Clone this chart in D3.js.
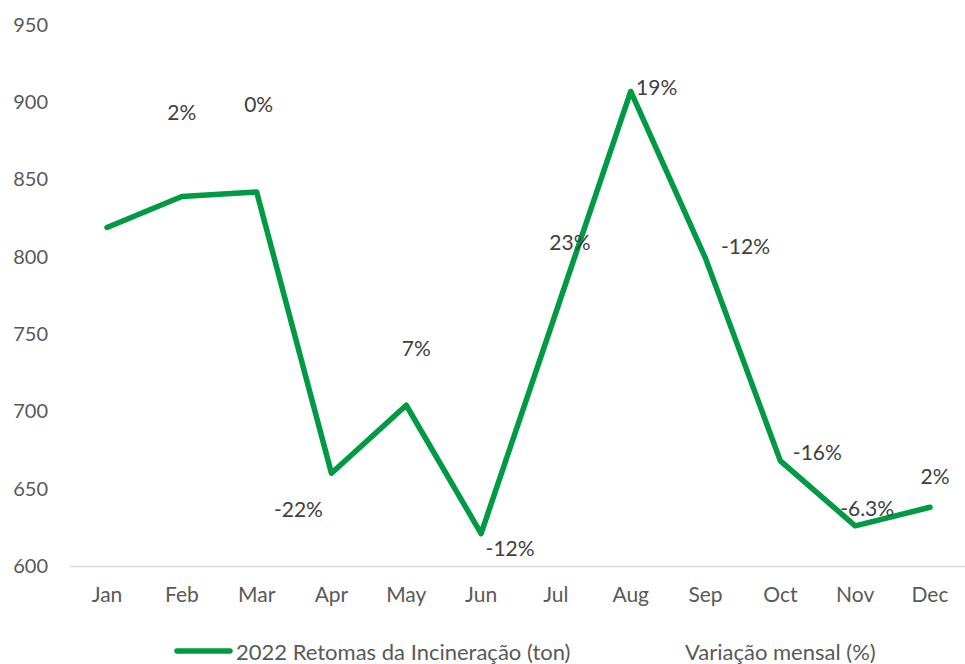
<!DOCTYPE html>
<html>
<head>
<meta charset="utf-8">
<script src="https://cdn.jsdelivr.net/npm/d3@7"></script>
<style>
  body { margin: 0; background: #fff; }
  svg { display: block; font-family: Lato, "Open Sans", sans-serif; }
</style>
</head>
<body>
<div id="chart"></div>
<script>
// chart data
const months = ['Jan', 'Feb', 'Mar', 'Apr', 'May', 'Jun', 'Jul', 'Aug', 'Sep', 'Oct', 'Nov', 'Dec'];
const retomas = [819, 839, 842, 660, 704, 621, 764, 907, 799, 668, 626, 638]; // ton
const variacao = [null, 2, 0, -22, 7, -12, 23, 19, -12, -16, -6.3, 2]; // %
const yTicks = [600, 650, 700, 750, 800, 850, 900, 950];
const seriesNames = ['2022 Retomas da Incineração (ton)', 'Variação mensal (%)'];

// label nudges (manual placement of the % labels around each point)
const labelNudge = [
  [0, 0], [0, -85], [2, -88], [-33, 35], [10, -58], [29, 14],
  [14, -71], [26, -5], [40, -13], [37, -9], [12, -18], [5, -32]
];

const width = 965;
const height = 664;
const green = '#009944';

const svg = d3.select('#chart')
  .append('svg')
  .attr('width', width)
  .attr('height', height);

const xScale = d3.scaleBand()
  .domain(months)
  .range([69.6, 967.4])
  .padding(0);

const yScale = d3.scaleLinear()
  .domain([600, 950])
  .range([566, 25]);

const cx = (i) => xScale(months[i]) + xScale.bandwidth() / 2;

// y axis labels (no axis line, no ticks)
const yAxis = svg.append('g')
  .attr('transform', 'translate(48,0)')
  .call(d3.axisLeft(yScale).tickValues(yTicks).tickSize(0).tickPadding(0));
yAxis.select('.domain').remove();
yAxis.selectAll('text')
  .attr('fill', '#595959')
  .style('font-size', '20px')
  .style('font-family', 'Lato, sans-serif');

// x axis (light baseline)
const xAxis = svg.append('g')
  .attr('transform', 'translate(0,566)')
  .call(d3.axisBottom(xScale).tickSize(0).tickPadding(21));
xAxis.select('.domain')
  .attr('stroke', '#d9d9d9')
  .attr('stroke-width', 1.5);
xAxis.selectAll('text')
  .attr('fill', '#595959')
  .style('font-size', '21px')
  .style('font-family', 'Lato, sans-serif');

// main line
const line = d3.line()
  .x((d, i) => cx(i))
  .y((d) => yScale(d));

svg.append('path')
  .datum(retomas)
  .attr('d', line)
  .attr('fill', 'none')
  .attr('stroke', green)
  .attr('stroke-width', 5.5)
  .attr('stroke-linejoin', 'round')
  .attr('stroke-linecap', 'round');

// monthly variation labels
const fmt = (v) => (Number.isInteger(v) ? v : v.toFixed(1)) + '%';

svg.append('g')
  .selectAll('text')
  .data(variacao.map((v, i) => ({ v, i })).filter((d) => d.v !== null))
  .join('text')
  .attr('x', (d) => cx(d.i) + labelNudge[d.i][0])
  .attr('y', (d) => yScale(retomas[d.i]) + labelNudge[d.i][1])
  .attr('text-anchor', 'middle')
  .attr('dominant-baseline', 'central')
  .attr('fill', '#404040')
  .style('font-size', '21px')
  .text((d) => fmt(d.v));

// legend
const legend = svg.append('g').attr('transform', 'translate(0,651)');
legend.append('line')
  .attr('x1', 177).attr('x2', 230)
  .attr('y1', 0).attr('y2', 0)
  .attr('stroke', green)
  .attr('stroke-width', 5.5)
  .attr('stroke-linecap', 'round');
legend.append('text')
  .attr('x', 236)
  .attr('dominant-baseline', 'central')
  .attr('fill', '#595959')
  .style('font-size', '22px')
  .text(seriesNames[0]);
legend.append('text')
  .attr('x', 685)
  .attr('dominant-baseline', 'central')
  .attr('fill', '#595959')
  .style('font-size', '22px')
  .text(seriesNames[1]);
</script>
</body>
</html>
